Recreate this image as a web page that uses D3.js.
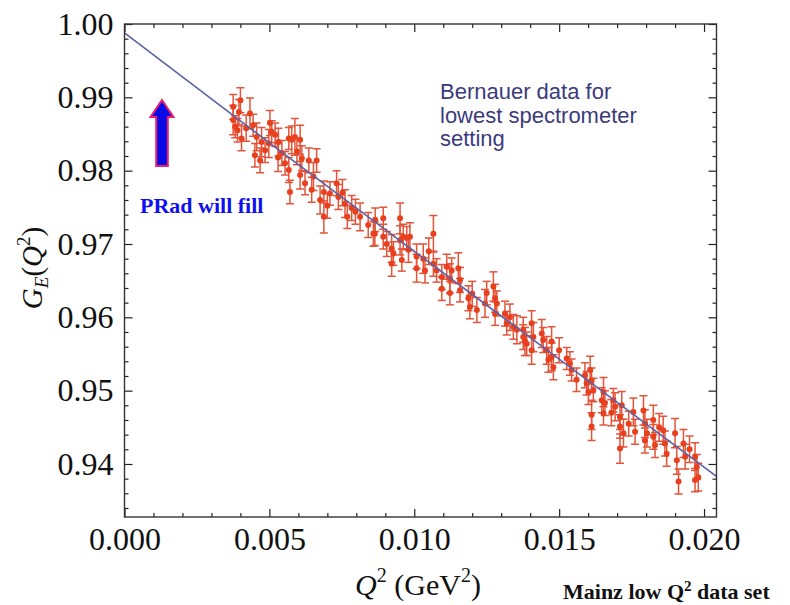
<!DOCTYPE html>
<html>
<head>
<meta charset="utf-8">
<script src="https://cdn.jsdelivr.net/npm/d3@7"></script>
<style>
  body { margin: 0; background: #fff; }
  svg { display: block; }
</style>
</head>
<body>
<div id="chart"></div>
<script>
// Q^2 (GeV^2), G_E, error
const points = [
  [0.00375, 0.9887, 0.0017], [0.00375, 0.9869, 0.0020], [0.00382, 0.9860, 0.0015], [0.00400, 0.9896, 0.0017],
  [0.00390, 0.9855, 0.0016], [0.00404, 0.9844, 0.0017], [0.00433, 0.9878, 0.0021], [0.00444, 0.9862, 0.0015],
  [0.00456, 0.9846, 0.0019], [0.00450, 0.9821, 0.0016], [0.00468, 0.9814, 0.0017], [0.00473, 0.9839, 0.0020],
  [0.00502, 0.9865, 0.0017], [0.00508, 0.9853, 0.0015], [0.00498, 0.9837, 0.0019], [0.00520, 0.9849, 0.0016],
  [0.00531, 0.9839, 0.0019], [0.00543, 0.9824, 0.0017], [0.00554, 0.9810, 0.0016], [0.00567, 0.9844, 0.0015],
  [0.00577, 0.9842, 0.0019], [0.00567, 0.9801, 0.0017], [0.00571, 0.9771, 0.0016], [0.00588, 0.9846, 0.0025],
  [0.00606, 0.9842, 0.0020], [0.00612, 0.9817, 0.0017], [0.00606, 0.9794, 0.0019], [0.00623, 0.9783, 0.0016],
  [0.00636, 0.9814, 0.0017], [0.00652, 0.9792, 0.0019], [0.00663, 0.9814, 0.0016], [0.00646, 0.9774, 0.0017],
  [0.00675, 0.9760, 0.0019], [0.00688, 0.9737, 0.0022], [0.00688, 0.9771, 0.0015], [0.00709, 0.9769, 0.0016],
  [0.00732, 0.9783, 0.0017], [0.00738, 0.9764, 0.0017], [0.00761, 0.9755, 0.0019], [0.00769, 0.9737, 0.0016],
  [0.00784, 0.9749, 0.0017], [0.00797, 0.9744, 0.0017], [0.00813, 0.9737, 0.0019], [0.00841, 0.9726, 0.0017],
  [0.00865, 0.9733, 0.0016], [0.00859, 0.9714, 0.0017], [0.00864, 0.9714, 0.0016], [0.00893, 0.9735, 0.0015],
  [0.00893, 0.9710, 0.0017], [0.00922, 0.9694, 0.0019], [0.00922, 0.9673, 0.0017], [0.00928, 0.9687, 0.0016],
  [0.00951, 0.9735, 0.0021], [0.00951, 0.9705, 0.0020], [0.00957, 0.9678, 0.0015], [0.00962, 0.9710, 0.0017],
  [0.00974, 0.9708, 0.0016], [0.00985, 0.9710, 0.0019], [0.00980, 0.9692, 0.0017], [0.01008, 0.9683, 0.0017],
  [0.01008, 0.9667, 0.0019], [0.01031, 0.9680, 0.0020], [0.01037, 0.9664, 0.0017], [0.01066, 0.9714, 0.0025],
  [0.01066, 0.9673, 0.0017], [0.01077, 0.9664, 0.0016], [0.01095, 0.9655, 0.0017], [0.01095, 0.9639, 0.0016],
  [0.01112, 0.9669, 0.0017], [0.01123, 0.9653, 0.0020], [0.01123, 0.9633, 0.0016], [0.01129, 0.9664, 0.0017],
  [0.01152, 0.9667, 0.0021], [0.01158, 0.9651, 0.0017], [0.01158, 0.9637, 0.0016], [0.01187, 0.9626, 0.0017],
  [0.01192, 0.9614, 0.0016], [0.01216, 0.9610, 0.0017], [0.01244, 0.9619, 0.0019], [0.01250, 0.9633, 0.0016],
  [0.01273, 0.9642, 0.0020], [0.01279, 0.9626, 0.0019], [0.01285, 0.9619, 0.0017], [0.01279, 0.9605, 0.0016],
  [0.01313, 0.9605, 0.0017], [0.01319, 0.9592, 0.0016], [0.01342, 0.9587, 0.0017], [0.01354, 0.9583, 0.0019],
  [0.01376, 0.9573, 0.0017], [0.01388, 0.9564, 0.0016], [0.01376, 0.9583, 0.0017], [0.01382, 0.9567, 0.0019],
  [0.01405, 0.9592, 0.0017], [0.01405, 0.9555, 0.0019], [0.01411, 0.9573, 0.0020], [0.01440, 0.9578, 0.0019],
  [0.01445, 0.9569, 0.0017], [0.01457, 0.9555, 0.0019], [0.01463, 0.9542, 0.0017], [0.01474, 0.9567, 0.0020],
  [0.01474, 0.9546, 0.0019], [0.01480, 0.9532, 0.0017], [0.01526, 0.9544, 0.0015], [0.01537, 0.9537, 0.0016],
  [0.01543, 0.9528, 0.0015], [0.01589, 0.9521, 0.0017], [0.01595, 0.9510, 0.0016], [0.01601, 0.9498, 0.0017],
  [0.01607, 0.9528, 0.0019], [0.01612, 0.9514, 0.0017], [0.01618, 0.9501, 0.0016], [0.01612, 0.9467, 0.0020],
  [0.01612, 0.9451, 0.0019], [0.01647, 0.9487, 0.0017], [0.01653, 0.9498, 0.0020], [0.01653, 0.9469, 0.0016],
  [0.01658, 0.9483, 0.0017], [0.01687, 0.9487, 0.0016], [0.01693, 0.9478, 0.0019], [0.01710, 0.9464, 0.0017],
  [0.01710, 0.9451, 0.0016], [0.01716, 0.9480, 0.0019], [0.01710, 0.9421, 0.0020], [0.01722, 0.9442, 0.0019],
  [0.01756, 0.9471, 0.0019], [0.01762, 0.9444, 0.0017], [0.01791, 0.9473, 0.0020], [0.01796, 0.9455, 0.0019],
  [0.01796, 0.9432, 0.0017], [0.01803, 0.9442, 0.0019], [0.01825, 0.9460, 0.0020], [0.01825, 0.9437, 0.0017],
  [0.01831, 0.9426, 0.0017], [0.01859, 0.9446, 0.0019], [0.01865, 0.9428, 0.0017], [0.01871, 0.9414, 0.0017],
  [0.01900, 0.9442, 0.0020], [0.01906, 0.9405, 0.0019], [0.01912, 0.9376, 0.0017], [0.01929, 0.9428, 0.0019],
  [0.01935, 0.9410, 0.0017], [0.01969, 0.9410, 0.0019], [0.01975, 0.9396, 0.0017], [0.01980, 0.9382, 0.0019],
  [0.01969, 0.9378, 0.0016], [0.00395, 0.9880, 0.0017], [0.00420, 0.9858, 0.0018], [0.00485, 0.9828, 0.0017],
  [0.00530, 0.9818, 0.0019], [0.00595, 0.9826, 0.0018], [0.00700, 0.9752, 0.0017], [0.00752, 0.9770, 0.0018],
  [0.00905, 0.9700, 0.0017], [0.01050, 0.9690, 0.0018], [0.01200, 0.9632, 0.0017], [0.01330, 0.9600, 0.0018],
  [0.01500, 0.9555, 0.0017], [0.01560, 0.9515, 0.0016], [0.01680, 0.9470, 0.0018], [0.01740, 0.9455, 0.0017],
  [0.01845, 0.9450, 0.0019], [0.01950, 0.9420, 0.0018]
];

// fitted curve
const fitCurve = [
  [0.000, 0.9988], [0.005, 0.9838], [0.010, 0.9690], [0.015, 0.9543], [0.0205, 0.9381]
];

const xMajorTicks = [0.000, 0.005, 0.010, 0.015, 0.020];
const yMajorTicks = [0.94, 0.95, 0.96, 0.97, 0.98, 0.99, 1.00];
const noteLines = ["Bernauer data for", "lowest spectrometer", "setting"];

const width = 790, height = 605;
const plotLeft = 124.5, plotRight = 716.5, plotTop = 24, plotBottom = 517;

const svg = d3.select("#chart").append("svg")
    .attr("width", width)
    .attr("height", height);

const x = d3.scaleLinear().domain([0, 0.02043]).range([plotLeft, plotRight]);
const y = d3.scaleLinear().domain([0.93277, 1.0]).range([plotBottom, plotTop]);

const xMinor = d3.range(0, 0.0205, 0.001).filter(v => !xMajorTicks.some(t => Math.abs(t - v) < 1e-9));
const yMinor = d3.range(0.934, 1.0001, 0.002).filter(v => !yMajorTicks.some(t => Math.abs(t - v) < 1e-9));

svg.append("defs").append("clipPath").attr("id", "plot-clip")
    .append("rect")
    .attr("x", plotLeft).attr("y", plotTop)
    .attr("width", plotRight - plotLeft).attr("height", plotBottom - plotTop);

const plot = svg.append("g").attr("clip-path", "url(#plot-clip)");

// error bars
const bars = plot.append("g").attr("stroke", "#e2553a").attr("stroke-width", 1.5);
points.forEach(d => {
    const cx = x(d[0]);
    const y1 = y(d[1] + d[2]), y2 = y(d[1] - d[2]);
    bars.append("line").attr("x1", cx).attr("x2", cx).attr("y1", y1).attr("y2", y2);
    bars.append("line").attr("x1", cx - 4).attr("x2", cx + 4).attr("y1", y1).attr("y2", y1);
    bars.append("line").attr("x1", cx - 4).attr("x2", cx + 4).attr("y1", y2).attr("y2", y2);
});

plot.append("g").selectAll("circle")
    .data(points)
    .enter()
    .append("circle")
    .attr("cx", d => x(d[0]))
    .attr("cy", d => y(d[1]))
    .attr("r", 3)
    .attr("fill", "#e8401f");

plot.append("path")
    .datum(fitCurve)
    .attr("fill", "none")
    .attr("stroke", "#5b62a8")
    .attr("stroke-width", 1.6)
    .attr("d", d3.line().x(d => x(d[0])).y(d => y(d[1])).curve(d3.curveMonotoneX));

// frame with inward ticks on all sides
const serif = "'Liberation Serif', 'Times New Roman', serif";

function styleAxis(g) {
    g.select(".domain").remove();
    g.selectAll(".tick line").attr("stroke", "#222").attr("stroke-width", 1.2);
    g.selectAll("text").attr("font-family", serif).attr("font-size", 32).attr("fill", "#111");
}

svg.append("g").attr("transform", `translate(0,${plotBottom})`)
    .call(d3.axisBottom(x).tickValues(xMajorTicks).tickSize(-8).tickPadding(10).tickFormat(d3.format(".3f")))
    .call(styleAxis);
svg.append("g").attr("transform", `translate(0,${plotBottom})`)
    .call(d3.axisBottom(x).tickValues(xMinor).tickSize(-4).tickFormat(""))
    .call(styleAxis);
svg.append("g").attr("transform", `translate(0,${plotTop})`)
    .call(d3.axisTop(x).tickValues(xMajorTicks).tickSize(-8).tickFormat(""))
    .call(styleAxis);
svg.append("g").attr("transform", `translate(0,${plotTop})`)
    .call(d3.axisTop(x).tickValues(xMinor).tickSize(-4).tickFormat(""))
    .call(styleAxis);

svg.append("g").attr("transform", `translate(${plotLeft},0)`)
    .call(d3.axisLeft(y).tickValues(yMajorTicks).tickSize(-8).tickPadding(11).tickFormat(d3.format(".2f")))
    .call(styleAxis);
svg.append("g").attr("transform", `translate(${plotLeft},0)`)
    .call(d3.axisLeft(y).tickValues(yMinor).tickSize(-4).tickFormat(""))
    .call(styleAxis);
svg.append("g").attr("transform", `translate(${plotRight},0)`)
    .call(d3.axisRight(y).tickValues(yMajorTicks).tickSize(-8).tickFormat(""))
    .call(styleAxis);
svg.append("g").attr("transform", `translate(${plotRight},0)`)
    .call(d3.axisRight(y).tickValues(yMinor).tickSize(-4).tickFormat(""))
    .call(styleAxis);

svg.append("rect")
    .attr("x", plotLeft).attr("y", plotTop)
    .attr("width", plotRight - plotLeft).attr("height", plotBottom - plotTop)
    .attr("fill", "none")
    .attr("stroke", "#333")
    .attr("stroke-width", 1.4);

// axis titles
const yTitle = svg.append("text")
    .attr("transform", "translate(42,268) rotate(-90)")
    .attr("text-anchor", "middle")
    .attr("font-family", serif)
    .attr("font-size", 29)
    .attr("fill", "#111");
yTitle.append("tspan").attr("font-style", "italic").text("G");
yTitle.append("tspan").attr("font-style", "italic").attr("font-size", 19).attr("dy", 6).text("E");
yTitle.append("tspan").attr("dy", -6).text("(");
yTitle.append("tspan").attr("font-style", "italic").text("Q");
yTitle.append("tspan").attr("font-size", 19).attr("dy", -12).text("2");
yTitle.append("tspan").attr("dy", 12).text(")");

const xTitle = svg.append("text")
    .attr("x", 418).attr("y", 595)
    .attr("text-anchor", "middle")
    .attr("font-family", serif)
    .attr("font-size", 30)
    .attr("fill", "#111");
xTitle.append("tspan").attr("font-style", "italic").text("Q");
xTitle.append("tspan").attr("font-size", 20).attr("dy", -13).text("2");
xTitle.append("tspan").attr("dy", 13).text(" (GeV");
xTitle.append("tspan").attr("font-size", 20).attr("dy", -13).text("2");
xTitle.append("tspan").attr("dy", 13).text(")");

// annotations
svg.append("text")
    .attr("font-family", "'Liberation Sans', Arial, sans-serif")
    .attr("font-size", 22)
    .attr("fill", "#3b3b7c")
    .selectAll("tspan")
    .data(noteLines)
    .enter()
    .append("tspan")
    .attr("x", 440)
    .attr("y", (d, i) => 99 + i * 23.5)
    .text(d => d);

svg.append("text")
    .attr("x", 140).attr("y", 213)
    .attr("font-family", serif)
    .attr("font-weight", "bold")
    .attr("font-size", 22)
    .attr("fill", "#1010ee")
    .text("PRad will fill");

// up arrow
const ax = 162, tipY = 100, headY = 117, baseY = 166, headW = 11.5, shaftW = 5.8;
svg.append("path")
    .attr("d", `M${ax},${tipY} L${ax + headW},${headY} L${ax + shaftW},${headY} L${ax + shaftW},${baseY}
                L${ax - shaftW},${baseY} L${ax - shaftW},${headY} L${ax - headW},${headY} Z`)
    .attr("fill", "#0a0ae6")
    .attr("stroke", "#e8206e")
    .attr("stroke-width", 2)
    .attr("stroke-linejoin", "miter");

const foot = svg.append("text")
    .attr("x", 563).attr("y", 599)
    .attr("font-family", serif)
    .attr("font-weight", "bold")
    .attr("font-size", 22)
    .attr("fill", "#111");
foot.append("tspan").text("Mainz low Q");
foot.append("tspan").attr("font-size", 15).attr("dy", -8).text("2");
foot.append("tspan").attr("dy", 8).text(" data set");
</script>
</body>
</html>
